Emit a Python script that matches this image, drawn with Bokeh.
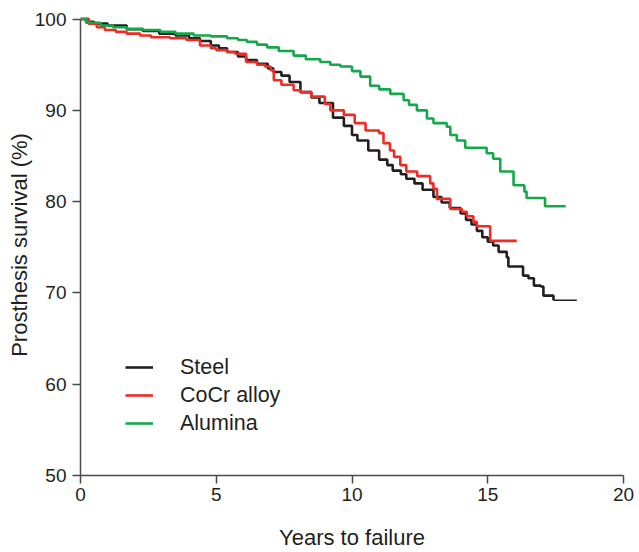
from bokeh.plotting import figure
from bokeh.models import FixedTicker, Legend, LegendItem
from bokeh.embed import file_html
from bokeh.resources import INLINE

# Kaplan-Meier step data (time in years, survival %)
steel_t = [0, 0.3, 0.5, 1.0, 1.7, 2.3, 2.9, 3.5, 4.0, 4.4, 4.8, 5.1, 5.4, 5.8, 6.1, 6.5, 6.9, 7.1,
           7.4, 7.7, 8.1, 8.5, 8.8, 9.3, 9.7, 10.0, 10.2, 10.6, 11.0, 11.3, 11.5, 11.8, 12.0, 12.3,
           12.6, 13.0, 13.3, 13.6, 14.0, 14.2, 14.4, 14.6, 14.8, 15.0, 15.2, 15.4, 15.7, 15.76,
           16.3, 16.5, 16.7, 16.95, 17.05, 17.42]
steel_s = [100, 99.7, 99.5, 99.3, 98.9, 98.7, 98.4, 98.2, 97.9, 97.6, 97.1, 96.8, 96.4, 95.9, 95.5,
           95.1, 94.6, 94.2, 93.8, 93.1, 92.0, 91.4, 90.8, 89.2, 88.3, 87.3, 86.7, 85.6, 84.6, 84.0,
           83.4, 83.0, 82.5, 82.0, 81.3, 80.5, 79.9, 79.3, 78.7, 78.0, 77.5, 76.8, 76.1, 75.6, 75.2,
           74.5, 73.9, 72.9, 71.9, 71.6, 70.8, 70.7, 69.7, 69.2]
steel_end = 18.28

cocr_t = [0, 0.3, 0.6, 0.9, 1.3, 1.7, 2.2, 2.6, 3.3, 3.9, 4.4, 4.8, 5.0, 5.4, 5.7, 6.1, 6.5, 6.8,
          7.0, 7.12, 7.4, 7.85, 8.1, 8.5, 9.0, 9.2, 9.7, 10.1, 10.5, 11.0, 11.16, 11.4, 11.55,
          11.78, 12.0, 12.4, 12.88, 13.0, 13.13, 13.62, 14.05, 14.23, 14.47, 14.6, 15.09]
cocr_s = [100, 99.5, 99.1, 98.8, 98.6, 98.4, 98.2, 98.0, 97.9, 97.7, 97.1, 96.8, 96.6, 96.4, 96.2,
          95.3, 95.0, 94.8, 94.4, 93.3, 92.8, 92.2, 92.0, 91.5, 90.7, 90.0, 89.5, 88.6, 87.8, 87.5,
          86.4, 85.6, 84.9, 84.0, 83.3, 82.8, 82.0, 81.4, 80.3, 79.2, 78.9, 78.4, 77.8, 77.3, 75.7]
cocr_end = 16.07

alumina_t = [0, 0.2, 0.74, 1.2, 1.72, 2.3, 2.94, 3.5, 4.17, 4.8, 5.4, 5.8, 6.13, 6.5, 6.87, 7.3,
             7.85, 8.3, 8.83, 9.2, 9.57, 10.0, 10.31, 10.67, 11.0, 11.41, 11.9, 12.1, 12.39, 12.76,
             13.0, 13.49, 13.62, 13.86, 14.17, 14.96, 15.2, 15.46, 15.95, 16.35, 16.43, 17.11]
alumina_s = [100, 99.6, 99.3, 99.1, 98.9, 98.8, 98.6, 98.4, 98.2, 98.1, 97.9, 97.7, 97.5, 97.2,
             96.9, 96.5, 96.0, 95.6, 95.3, 95.0, 94.8, 94.3, 93.7, 92.7, 92.3, 91.8, 91.1, 90.6,
             90.0, 89.1, 88.6, 88.2, 87.3, 86.7, 85.9, 85.3, 84.7, 83.3, 81.8, 81.1, 80.4, 79.5]
alumina_end = 17.87

series_names = ["Steel", "CoCr alloy", "Alumina"]
x_ticks = [0, 5, 10, 15, 20]
y_ticks = [50, 60, 70, 80, 90, 100]
x_title = "Years to failure"
y_title = "Prosthesis survival (%)"

FONT = "Liberation Sans"
TXT = "#231f20"
colors = ["#231f20", "#ee2b24", "#15a84a"]

p = figure(width=639, height=552, x_range=(0, 20), y_range=(50, 100.5),
           output_backend="svg", toolbar_location=None,
           min_border_left=80, min_border_right=16, min_border_top=14, min_border_bottom=77)
p.outline_line_color = None
p.xgrid.visible = False
p.ygrid.visible = False

renderers = []
data = [(steel_t, steel_s, steel_end), (cocr_t, cocr_s, cocr_end), (alumina_t, alumina_s, alumina_end)]
for (t, s, end), c in zip(data, colors):
    xs = list(t) + [end]
    ys = list(s) + [s[-1]]
    if end == steel_end:
        r = p.step(xs[:-1], ys[:-1], mode="after", line_color=c, line_width=2.6)
        p.line(xs[-2:], ys[-2:], line_color=c, line_width=1.3)
    else:
        r = p.step(xs, ys, mode="after", line_color=c, line_width=2.6)
    renderers.append(r)

for ax in (p.xaxis[0], p.yaxis[0]):
    ax.axis_line_color = "#4a4a4a"
    ax.axis_line_width = 1.5
    ax.major_tick_line_color = "#4a4a4a"
    ax.major_tick_line_width = 1.5
    ax.major_tick_in = 0
    ax.major_tick_out = 8
    ax.minor_tick_line_color = None
    ax.major_label_text_font = FONT
    ax.major_label_text_font_size = "19px"
    ax.major_label_text_color = TXT
    ax.axis_label_text_font = FONT
    ax.axis_label_text_font_size = "22px"
    ax.axis_label_text_font_style = "normal"
    ax.axis_label_text_color = TXT

p.xaxis.ticker = FixedTicker(ticks=x_ticks)
p.yaxis.ticker = FixedTicker(ticks=y_ticks)
p.xaxis.bounds = (0, 20)
p.yaxis.bounds = (50, 100)
p.xaxis.axis_label = x_title
p.yaxis.axis_label = y_title
p.xaxis.major_label_standoff = 4
p.yaxis.major_label_standoff = 6
p.xaxis.axis_label_standoff = 21
p.yaxis.axis_label_standoff = 0

legend = Legend(items=[LegendItem(label=n, renderers=[r]) for n, r in zip(series_names, renderers)],
                location=(45, 38), glyph_width=28, glyph_height=28, label_height=28,
                label_standoff=27, spacing=0, padding=0, margin=0,
                border_line_color=None, background_fill_alpha=0,
                label_text_font=FONT, label_text_font_size="21.5px", label_text_color=TXT)
p.add_layout(legend, "center")

open("out.html", "w").write(file_html(p, INLINE))
